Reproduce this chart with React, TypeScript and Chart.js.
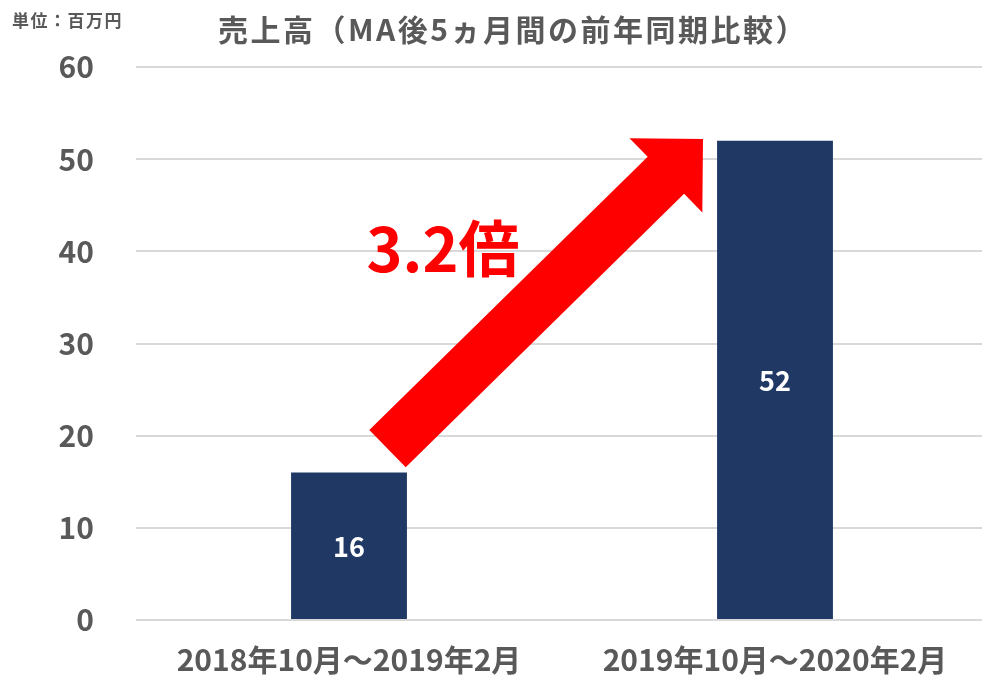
import { useEffect, useRef } from 'react';
import { Chart, registerables } from 'chart.js';

Chart.register(...registerables);

const categories = ['2018年10月～2019年2月', '2019年10月～2020年2月'];
const salesValues = [16, 52];
const yTickValues = [0, 10, 20, 30, 40, 50, 60];
const titleText = '売上高（MA後5ヵ月間の前年同期比較）';
const unitText = '単位：百万円';
const ratioText = '3.2倍';
const arrowFrom = { index: 0, value: 18.6, dx: 38.5 };
const arrowTo = { index: 1, value: 52.2, dx: -72 };

const FONT = "'Noto Sans CJK JP', 'Noto Sans', sans-serif";
const GRAY = '#595959';
const NAVY = '#203864';
const RED = '#ff0000';

const overlayPlugin = {
  id: 'overlay',
  afterDatasetsDraw(chart: any) {
    const { ctx, scales } = chart;
    const x = scales.x;
    const y = scales.y;
    ctx.save();

    // data labels inside bars
    const meta = chart.getDatasetMeta(0);
    ctx.fillStyle = '#ffffff';
    ctx.font = `bold 27px ${FONT}`;
    ctx.textAlign = 'center';
    ctx.textBaseline = 'middle';
    meta.data.forEach((bar: any, i: number) => {
      const p = bar.getProps(['x', 'y', 'base'], true);
      ctx.fillText(String(salesValues[i]), p.x, (p.y + p.base) / 2 + 1);
    });

    // arrow
    const p0x = x.getPixelForValue(arrowFrom.index) + arrowFrom.dx;
    const p0y = y.getPixelForValue(arrowFrom.value);
    const tx = x.getPixelForValue(arrowTo.index) + arrowTo.dx;
    const ty = y.getPixelForValue(arrowTo.value);
    const len = Math.hypot(tx - p0x, ty - p0y);
    const ux = (tx - p0x) / len;
    const uy = (ty - p0y) / len;
    const nx = -uy;
    const ny = ux;
    const w = 26;
    const hl = 52;
    const hw = 52;
    const bx = tx - ux * hl;
    const by = ty - uy * hl;
    ctx.fillStyle = RED;
    ctx.beginPath();
    ctx.moveTo(p0x + nx * w, p0y + ny * w);
    ctx.lineTo(bx + nx * w, by + ny * w);
    ctx.lineTo(bx + nx * hw, by + ny * hw);
    ctx.lineTo(tx, ty);
    ctx.lineTo(bx - nx * hw, by - ny * hw);
    ctx.lineTo(bx - nx * w, by - ny * w);
    ctx.lineTo(p0x - nx * w, p0y - ny * w);
    ctx.closePath();
    ctx.fill();

    // ratio text
    ctx.fillStyle = RED;
    ctx.font = `bold 61px ${FONT}`;
    ctx.textAlign = 'center';
    ctx.textBaseline = 'alphabetic';
    ctx.fillText(ratioText, x.getPixelForValue(0) + 94, y.getPixelForValue(37.8));

    // title
    ctx.fillStyle = GRAY;
    ctx.font = `bold 30px ${FONT}`;
    ctx.textAlign = 'center';
    ctx.textBaseline = 'middle';
    try { (ctx as any).letterSpacing = '2.5px'; } catch (e) {}
    ctx.fillText(titleText, 513, 30);

    // unit label
    try { (ctx as any).letterSpacing = '1.5px'; } catch (e) {}
    ctx.font = `bold 17px ${FONT}`;
    ctx.textAlign = 'left';
    ctx.fillText(unitText, 12, 21);
    try { (ctx as any).letterSpacing = '0px'; } catch (e) {}

    ctx.restore();
  },
};

export default function App() {
  const canvasRef = useRef<HTMLCanvasElement | null>(null);

  useEffect(() => {
    if (!canvasRef.current) return;
    const chart = new Chart(canvasRef.current, {
      type: 'bar',
      data: {
        labels: categories,
        datasets: [
          {
            label: '売上高',
            data: salesValues,
            backgroundColor: NAVY,
            borderWidth: 0,
            categoryPercentage: 1,
            barPercentage: 0.272,
          },
        ],
      },
      options: {
        animation: false,
        responsive: false,
        devicePixelRatio: 1,
        layout: { padding: { top: 67, left: 0, right: 0, bottom: 0 } },
        plugins: {
          legend: { display: false },
          title: { display: false },
          tooltip: { enabled: false },
        },
        scales: {
          x: {
            grid: { display: false },
            border: { display: false },
            ticks: {
              color: GRAY,
              font: { family: FONT, size: 30, weight: 'bold' },
              padding: 14,
              maxRotation: 0,
              autoSkip: false,
            },
            afterFit(scale: any) {
              scale.height = 58;
            },
          },
          y: {
            min: 0,
            max: 60,
            afterBuildTicks(scale: any) {
              scale.ticks = yTickValues.map((v) => ({ value: v }));
            },
            grid: { color: '#d9d9d9', lineWidth: 2, drawTicks: false },
            border: { display: false },
            ticks: {
              color: GRAY,
              font: { family: FONT, size: 30, weight: 'bold' },
              padding: 42,
            },
            afterFit(scale: any) {
              scale.width = 136;
            },
          },
        },
      },
      plugins: [overlayPlugin],
    });
    return () => chart.destroy();
  }, []);

  return (
    <div style={{ position: 'absolute', left: 0, top: 0, width: 982, height: 680, overflow: 'hidden', background: '#fff' }}>
      <canvas ref={canvasRef} width={988} height={680} style={{ display: 'block' }} />
    </div>
  );
}
